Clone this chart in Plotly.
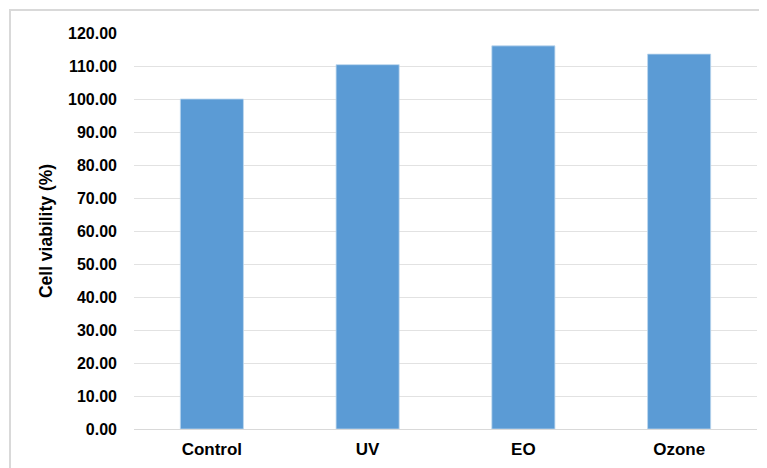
import plotly.graph_objects as go

categories = ["Control", "UV", "EO", "Ozone"]
viability = [100.0, 110.4, 116.1, 113.6]
y_ticks = [0, 10, 20, 30, 40, 50, 60, 70, 80, 90, 100, 110, 120]

font_family = "Arial, Liberation Sans, sans-serif"

fig = go.Figure(
    go.Bar(
        x=categories,
        y=viability,
        marker=dict(color="#5b9bd5", line=dict(color="#bdd7ee", width=0.8)),
        width=0.405,
    )
)

# the page body adds an 8px offset, so margins are compensated
fig.update_layout(
    width=767,
    height=468,
    margin=dict(l=126, r=18, t=25, b=47),
    plot_bgcolor="white",
    paper_bgcolor="white",
    showlegend=False,
    font=dict(family=font_family, color="#000000"),
    bargap=0.6,
)

fig.update_xaxes(
    automargin=False,
    showgrid=False,
    showline=False,
    ticks="",
    tickfont=dict(family=font_family, size=17, color="#000000", weight="bold"),
    ticklabelstandoff=8,
)

fig.update_yaxes(
    automargin=False,
    range=[0, 120],
    tickvals=y_ticks,
    tickformat=".2f",
    showgrid=True,
    gridcolor="#e2e2e2",
    gridwidth=1,
    zeroline=True,
    zerolinecolor="#d9d9d9",
    zerolinewidth=1,
    showline=False,
    ticks="",
    tickfont=dict(family=font_family, size=16, color="#000000", weight="bold"),
    ticklabelstandoff=16,
    title=dict(
        text="Cell viability (%)",
        font=dict(family=font_family, size=17.5, color="#000000", weight="bold"),
        standoff=10,
    ),
)

# outer chart border (light gray)
fig.add_shape(
    type="rect",
    xref="paper",
    yref="paper",
    x0=-0.199,
    x1=1.04,
    y0=-0.14,
    y1=1.058,
    line=dict(color="#d9d9d9", width=2),
    fillcolor="rgba(0,0,0,0)",
    layer="below",
)

fig.write_html("out.html")
